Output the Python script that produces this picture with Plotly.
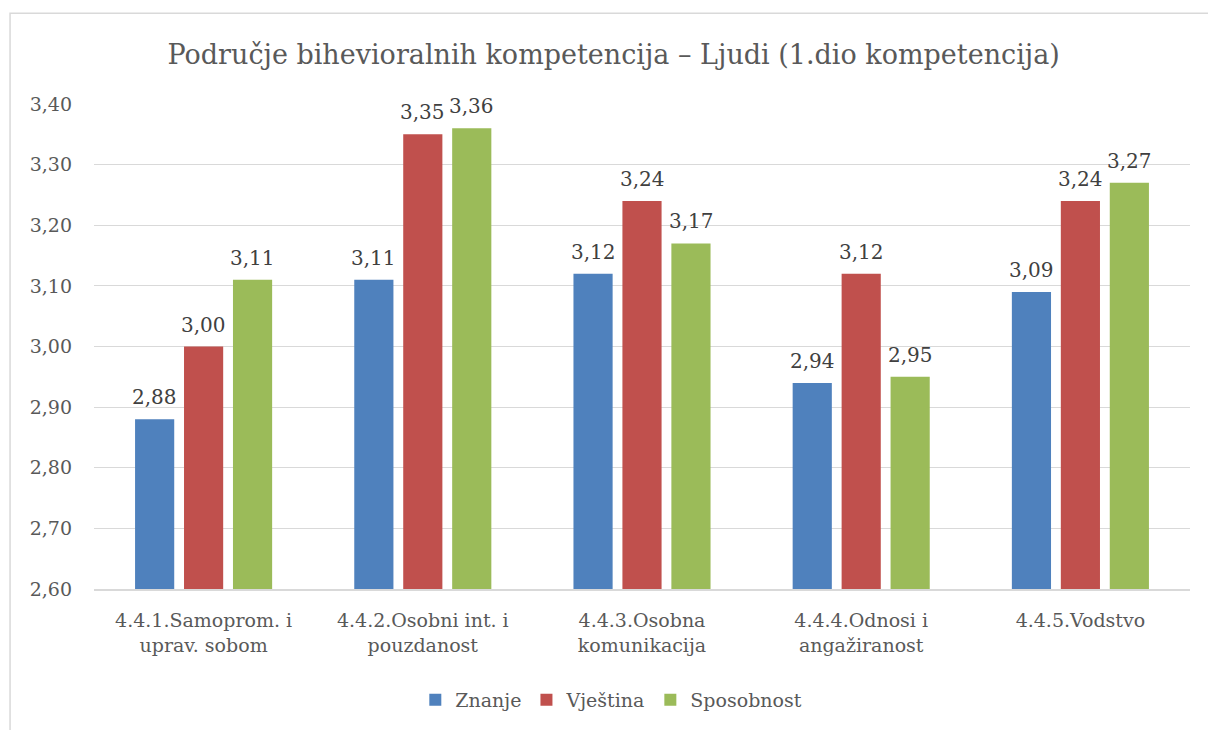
import plotly.graph_objects as go

categories = [
    "4.4.1.Samoprom. i<br>uprav. sobom",
    "4.4.2.Osobni int. i<br>pouzdanost",
    "4.4.3.Osobna<br>komunikacija",
    "4.4.4.Odnosi i<br>angažiranost",
    "4.4.5.Vodstvo",
]
znanje = [2.88, 3.11, 3.12, 2.94, 3.09]
vjestina = [3.00, 3.35, 3.24, 3.12, 3.24]
sposobnost = [3.11, 3.36, 3.17, 2.95, 3.27]
y_ticks = [2.6, 2.7, 2.8, 2.9, 3.0, 3.1, 3.2, 3.3, 3.4]

series = [
    ("Znanje", znanje, "#4f81bd"),
    ("Vještina", vjestina, "#c0504d"),
    ("Sposobnost", sposobnost, "#9bbb59"),
]

FONT = "DejaVu Serif"
TEXT = "#595959"

fig = go.Figure()
for name, vals, color in series:
    fig.add_trace(go.Bar(
        name=name, x=categories, y=vals,
        marker=dict(color=color, line=dict(width=0)),
    ))

# value labels above each bar
slot_px = 49
for j, (name, vals, color) in enumerate(series):
    for cat, v in zip(categories, vals):
        fig.add_annotation(
            x=cat, y=v, xref="x", yref="y",
            text=f"{v:.2f}".replace(".", ","),
            showarrow=False, yanchor="bottom",
            xshift=(j - 1) * slot_px, yshift=8,
            font=dict(family=FONT, size=20, color="#404040"),
        )

fig.update_layout(
    width=1208, height=730,
    margin=dict(l=94, r=18, t=104, b=140),
    paper_bgcolor="white", plot_bgcolor="white",
    separators=", ",
    barmode="group", bargap=0.33, bargroupgap=0.2,
    font=dict(family=FONT, color=TEXT, size=19),
    title=dict(
        text="Područje bihevioralnih kompetencija – Ljudi (1.dio kompetencija)",
        x=0.508, xref="container", xanchor="center",
        y=1 - 55 / 730, yref="container", yanchor="middle",
        font=dict(family=FONT, size=27, color=TEXT),
    ),
    showlegend=True,
    legend=dict(
        orientation="h", x=0.472, xanchor="center", y=-0.226, yanchor="middle",
        font=dict(family=FONT, size=19, color=TEXT),
        traceorder="normal",
    ),
    shapes=[dict(
        type="rect", xref="paper", yref="paper",
        x0=-0.0766, x1=1.2, y0=-0.5, y1=1.187,
        line=dict(color="#d9d9d9", width=1.5), layer="below",
    )],
)

fig.update_yaxes(
    range=[2.6, 3.4], tickvals=y_ticks,
    ticktext=[f"{t:.2f}".replace(".", ",") for t in y_ticks],
    showgrid=True, gridcolor="#d9d9d9", gridwidth=1,
    zeroline=False, showline=False, ticks="",
    ticklabelstandoff=21,
    tickfont=dict(family=FONT, size=19, color=TEXT),
)
fig.update_xaxes(
    showline=True, linecolor="#d9d9d9", linewidth=2,
    ticks="", ticklabelstandoff=13,
    tickfont=dict(family=FONT, size=19, color=TEXT),
)

fig.write_html("out.html")
